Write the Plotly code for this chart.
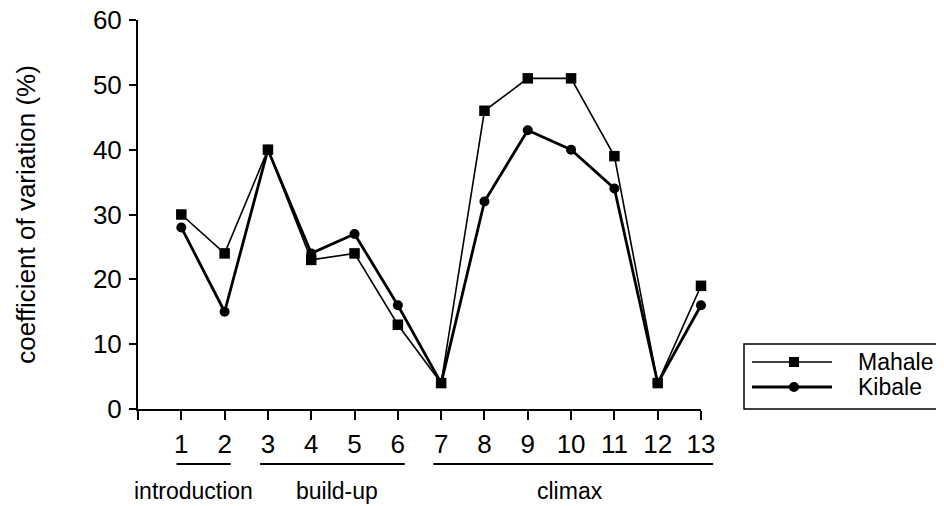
import plotly.graph_objects as go

songs = list(range(1, 14))
mahale = [30, 24, 40, 23, 24, 13, 4, 46, 51, 51, 39, 4, 19]
kibale = [28, 15, 40, 24, 27, 16, 4, 32, 43, 40, 34, 4, 16]
tick_vals = list(range(0, 14))
tick_text = [""] + [str(i) for i in songs]
y_ticks = [0, 10, 20, 30, 40, 50, 60]
phases = ["introduction", "build-up", "climax"]
phase_spans = [(0.89, 2.14), (2.82, 6.16), (6.82, 13.28)]
phase_centers = [1.27, 4.6, 9.97]
series_names = ["Mahale", "Kibale"]

FONT = "Liberation Sans, Arial, sans-serif"
W, H = 944, 506
OFF = 8  # page body margin offset
# screen-pixel plot box of the reference
SX0, SX1, SY0, SY1 = 138, 701, 20, 409
L, T = SX0 - OFF, SY0 - OFF
R, B = W - (SX1 - OFF), H - (SY1 - OFF)
PW, PH = SX1 - SX0, SY1 - SY0
xmin, xmax = 0, 13


def xp(v):
    return (v - xmin) / (xmax - xmin)


def px2x(px):
    return (px - SX0) / PW


def px2y(py):
    return (SY1 - py) / PH


fig = go.Figure()
fig.add_trace(go.Scatter(
    x=songs, y=mahale, name=series_names[0], mode="lines+markers",
    line=dict(color="black", width=1.6),
    marker=dict(symbol="square", size=10.5, color="black"),
    cliponaxis=False, showlegend=False,
))
fig.add_trace(go.Scatter(
    x=songs, y=kibale, name=series_names[1], mode="lines+markers",
    line=dict(color="black", width=2.8),
    marker=dict(symbol="circle", size=10, color="black"),
    cliponaxis=False, showlegend=False,
))

# phase brackets under the x axis
for (a, b), c, name in zip(phase_spans, phase_centers, phases):
    fig.add_shape(type="line", xref="paper", yref="paper",
                  x0=xp(a), x1=xp(b), y0=px2y(464), y1=px2y(464),
                  line=dict(color="black", width=2))
    fig.add_annotation(x=xp(c), y=px2y(491), xref="paper", yref="paper",
                       text=name, showarrow=False, xanchor="center",
                       yanchor="middle",
                       font=dict(size=23, color="black", family=FONT))

# legend box
fig.add_shape(type="rect", xref="paper", yref="paper",
              x0=px2x(744), x1=px2x(942), y0=px2y(409), y1=px2y(344),
              line=dict(color="black", width=1.5), fillcolor="white")
rows = [(362, "square", 1.6), (387, "circle", 2.8)]
for (ry, sym, lw), nm in zip(rows, series_names):
    fig.add_shape(type="line", xref="paper", yref="paper",
                  x0=px2x(752), x1=px2x(832), y0=px2y(ry), y1=px2y(ry),
                  line=dict(color="black", width=lw))
    shape_type = "rect" if sym == "square" else "circle"
    fig.add_shape(type=shape_type, xref="paper", yref="paper",
                  x0=px2x(789), x1=px2x(799), y0=px2y(ry + 5), y1=px2y(ry - 5),
                  line=dict(color="black", width=0), fillcolor="black")
    fig.add_annotation(x=px2x(856), y=px2y(ry), xref="paper", yref="paper",
                       text=nm, showarrow=False, xanchor="left", yanchor="middle",
                       font=dict(size=23, color="black", family=FONT))

fig.update_layout(
    width=W, height=H,
    margin=dict(l=L, r=R, t=T, b=B),
    plot_bgcolor="white", paper_bgcolor="white",
    font=dict(family=FONT, color="black"),
    showlegend=False,
    xaxis=dict(
        range=[xmin, xmax], tickvals=tick_vals, ticktext=tick_text,
        showline=True, linecolor="black", linewidth=2,
        ticks="outside", ticklen=9, tickwidth=2, tickcolor="black",
        showgrid=False, zeroline=False, automargin=False,
        tickfont=dict(size=26, family=FONT, color="black"),
        ticklabelstandoff=2, ticklabeloverflow="allow",
    ),
    yaxis=dict(
        range=[0, 60], tickvals=y_ticks,
        showline=True, linecolor="black", linewidth=2,
        ticks="outside", ticklen=7, tickwidth=2, tickcolor="black",
        showgrid=False, zeroline=False, automargin=False,
        tickfont=dict(size=26, family=FONT, color="black"),
        ticklabelstandoff=2, ticklabeloverflow="allow",
        title=dict(text="coefficient of variation (%)",
                   font=dict(size=26, family=FONT, color="black"),
                   standoff=50),
    ),
)

fig.write_html("out.html")
